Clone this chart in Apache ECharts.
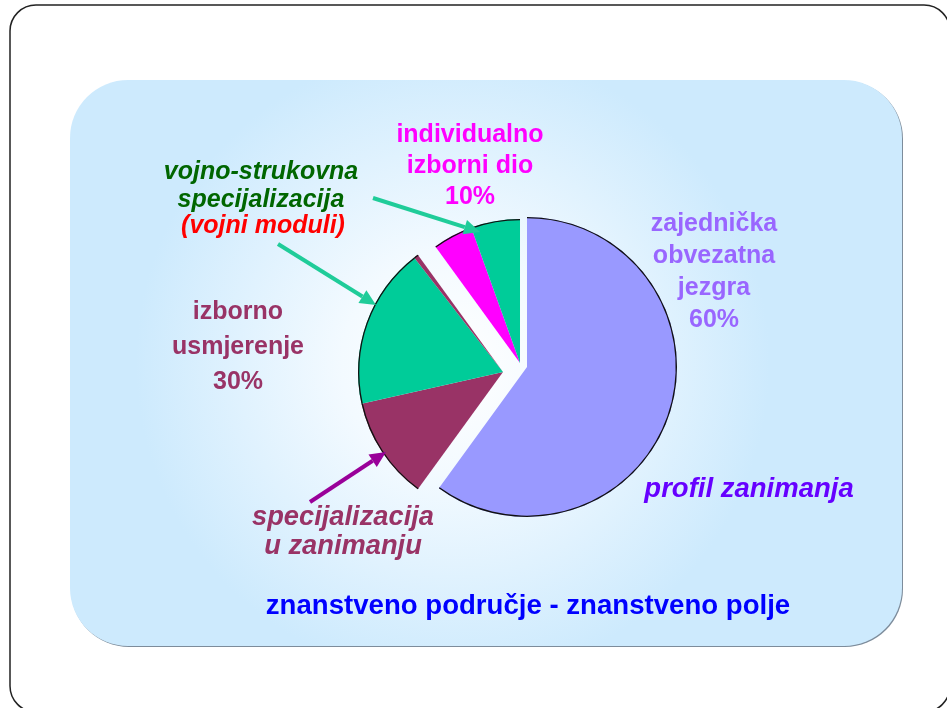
<!DOCTYPE html>
<html>
<head>
<meta charset="utf-8">
<script src="https://cdn.jsdelivr.net/npm/echarts@6/dist/echarts.min.js"></script>
<style>
  html, body { margin: 0; padding: 0; background: #fff; }
  #chart { width: 947px; height: 708px; }
</style>
</head>
<body>
<div id="chart"></div>
<script>
// slices, clockwise from 12 o'clock
const categories = [
  "zajednička obvezatna jezgra",
  "specijalizacija u zanimanju",
  "vojno-strukovna specijalizacija",
  "izborno usmjerenje (ostalo)",
  "individualno izborni dio",
  "vojno-strukovna specijalizacija (izborni)"
];
const values = [60, 11.5, 18, 0.5, 4.5, 5.5];
// which exploded group each slice belongs to
const groupOf = [0, 1, 1, 1, 2, 2];

const sliceColors = ["#9999ff", "#993366", "#00cc99", "#993366", "#ff00ff", "#00cc99"];
// group placement (the exploded pieces)
const groupCenters = [[527, 367], [503, 372], [520, 363]];
const groupRadius = [150, 145, 144];

const FONT = "'Liberation Sans', Arial, sans-serif";

let chart = echarts.init(document.getElementById("chart"), null, { renderer: "canvas" });

let series = [];
for (let g = 0; g < groupCenters.length; g++) {
  series.push({
    type: "pie",
    silent: true,
    animation: false,
    startAngle: 90,
    clockwise: true,
    center: groupCenters[g],
    radius: groupRadius[g],
    label: { show: false },
    labelLine: { show: false },
    z: 3,
    data: values.map((v, i) => ({
      name: categories[i],
      value: v,
      itemStyle: {
        color: groupOf[i] === g ? sliceColors[i] : "transparent",
        borderWidth: 0
      }
    }))
  });
  // thin black rim along the outer arc only
  series.push({
    type: "pie",
    silent: true,
    animation: false,
    startAngle: 90,
    clockwise: true,
    center: groupCenters[g],
    radius: [groupRadius[g] - 1.3, groupRadius[g]],
    label: { show: false },
    labelLine: { show: false },
    z: 4,
    data: values.map((v, i) => ({
      name: categories[i],
      value: v,
      itemStyle: {
        color: groupOf[i] === g ? "#111" : "transparent",
        borderWidth: 0
      }
    }))
  });
}

function arrow(x1, y1, x2, y2, color, width, headLen, headW) {
  const ang = Math.atan2(y2 - y1, x2 - x1);
  const bx = x2 - headLen * Math.cos(ang);
  const by = y2 - headLen * Math.sin(ang);
  const px = -Math.sin(ang) * headW / 2;
  const py = Math.cos(ang) * headW / 2;
  return [
    {
      type: "line", z: 50, silent: true,
      shape: { x1: x1, y1: y1, x2: bx, y2: by },
      style: { stroke: color, lineWidth: width }
    },
    {
      type: "polygon", z: 50, silent: true,
      shape: { points: [[x2, y2], [bx + px, by + py], [bx - px, by - py]] },
      style: { fill: color }
    }
  ];
}

function label(text, x, y, color, size, lineHeight, italic) {
  return {
    type: "text", z: 60, silent: true,
    x: x, y: y,
    style: {
      text: text,
      fill: color,
      font: (italic ? "italic " : "") + "bold " + size + "px " + FONT,
      lineHeight: lineHeight,
      align: "center",
      verticalAlign: "middle"
    }
  };
}

const graphics = [
  // slide frame
  {
    type: "rect", z: 0, silent: true,
    shape: { x: 10, y: 5, width: 940, height: 707, r: 26 },
    style: { fill: "#fff", stroke: "#222", lineWidth: 1.5 }
  },
  // box shadow
  {
    type: "rect", z: 1, silent: true,
    shape: { x: 71, y: 81, width: 832, height: 566, r: 58 },
    style: { fill: "#7d8c9b" }
  },
  // light blue panel
  {
    type: "rect", z: 1, silent: true,
    shape: { x: 70, y: 80, width: 832, height: 566, r: 58 },
    style: {
      fill: new echarts.graphic.RadialGradient(0.46, 0.5, 0.56, [
        { offset: 0, color: "#ffffff" },
        { offset: 0.35, color: "#f3faff" },
        { offset: 1, color: "#cdeafd" }
      ])
    }
  },
  label("individualno\nizborni dio\n10%", 470, 166, "#ff00ff", 25, 31, false),
  label("vojno-strukovna\nspecijalizacija", 261, 186, "#006600", 25, 28, true),
  label("(vojni moduli)", 263, 226, "#ff0000", 25, 28, true),
  label("zajednička\nobvezatna\njezgra\n60%", 714, 272, "#9966ff", 25, 32, false),
  label("izborno\nusmjerenje\n30%", 238, 347, "#993366", 25, 35, false),
  label("profil zanimanja", 749, 489, "#6600ff", 27.5, 30, true),
  label("specijalizacija\nu zanimanju", 343, 532, "#993366", 27.3, 29, true),
  label("znanstveno područje - znanstveno polje", 528, 606, "#0000ff", 27.6, 30, false)
]
  .concat(arrow(373, 198, 480, 232, "#1fcc99", 4, 16, 15))
  .concat(arrow(278, 244, 376, 305, "#1fcc99", 4, 16, 15))
  .concat(arrow(310, 502, 386, 452, "#990099", 4, 16, 15));

const option = {
  backgroundColor: "#ffffff",
  animation: false,
  graphic: { elements: graphics },
  series: series
};

chart.setOption(option);
</script>
</body>
</html>
